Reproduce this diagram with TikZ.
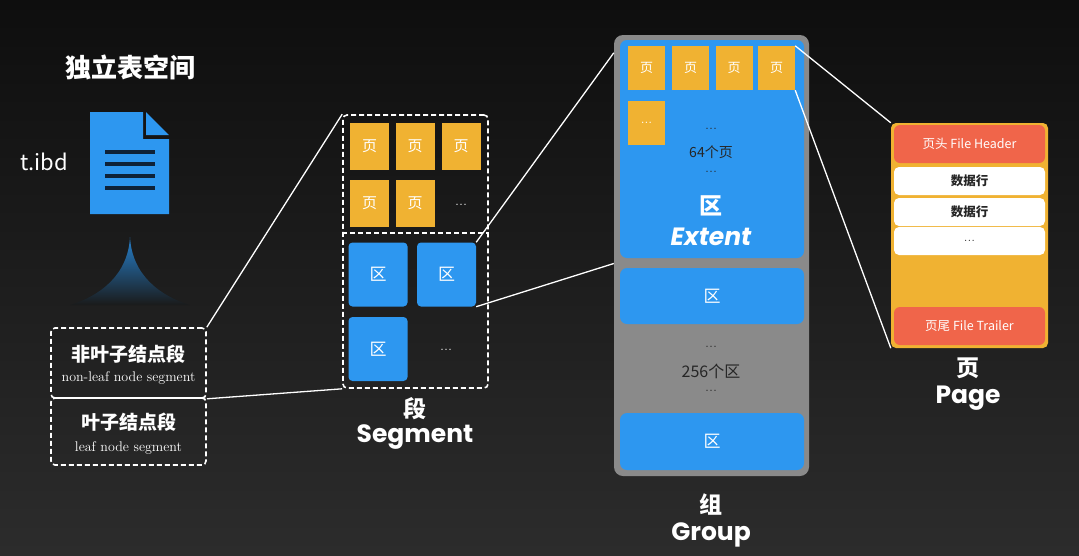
\documentclass[tikz,border=0pt]{standalone}
\usepackage{fontspec}
\newfontfamily\cjk{Noto Sans CJK SC}
\newfontfamily\disp{Poppins}
\newcommand{\fsz}[1]{\fontsize{#1}{#1}\selectfont}
\definecolor{bgtop}{HTML}{0E0E0E}
\definecolor{bgbot}{HTML}{2C2C2C}
\definecolor{docblue}{HTML}{2D97F0}
\definecolor{docdark}{HTML}{0E2238}
\definecolor{pageyel}{HTML}{F0B232}
\definecolor{hdrred}{HTML}{F0654A}
\definecolor{grpgray}{HTML}{8A8A8A}
\tikzset{
  dashbox/.style={draw=white, line width=1.6pt, dash pattern=on 5pt off 3pt, rounded corners=4pt, inner sep=0pt},
  pagecell/.style={fill=pageyel, text=white, inner sep=0pt, font=\cjk\fsz{15}},
  extcell/.style={fill=docblue, text=white, rounded corners=4pt, inner sep=0pt, font=\cjk\fsz{17}},
  rowcell/.style={fill=white, text=black!85, rounded corners=5pt, minimum width=151, minimum height=28, inner sep=0pt, font=\cjk\bfseries\fsz{12.5}},
  redcell/.style={fill=hdrred, text=white, rounded corners=6pt, minimum width=151, minimum height=38, inner sep=0pt, font=\cjk\fsz{12.5}},
  cjktitle/.style={text=white, font=\cjk\bfseries\fsz{23}},
  engtitle/.style={text=white, font=\disp\bfseries\fsz{25}},
  dots/.style={font=\fsz{16}},
  link/.style={draw=white!90, line width=1.3pt}
}
\begin{document}
\begin{tikzpicture}[x=1pt,y=-1pt]
\shade[top color=bgtop,bottom color=bgbot] (0,0) rectangle (1079,555);
\node[text=white, font=\cjk\bfseries\fsz{26}] (title) at (130,67) {独立表空间};
\node[text=white, font=\cjk\fsz{22}] (ibd) at (44,162) {t.ibd};
\fill[docblue] (90,112) -- (143,112) -- (143,139) -- (169,139) -- (169,214) -- (90,214) -- cycle;
\fill[docblue] (146,112) -- (169,135) -- (146,135) -- cycle;
\foreach \y in {152,164,176,188}
  \draw[line width=3.5pt, docdark] (105,\y) -- (155,\y);
\shade[top color=docblue!85!black, bottom color=bgtop!60!bgbot]
  (130,237) .. controls (128,275) and (100,296) .. (70,305) -- (190,305)
  .. controls (160,296) and (132,275) .. (130,237);
\node[dashbox, minimum width=155, minimum height=70] (nonleaf) at (128.5,363) {};
\node[dashbox, minimum width=155, minimum height=67] (leaf) at (128.5,431.5) {};
\node[text=white, font=\cjk\bfseries\fsz{19}] (nonleaft) at (128.5,354) {非叶子结点段};
\node[text=white, font=\fsz{14}] (nonleafe) at (128.5,378) {non-leaf node segment};
\node[text=white, font=\cjk\bfseries\fsz{19}] (leaft) at (128.5,422) {叶子结点段};
\node[text=white, font=\fsz{14}] (leafe) at (128.5,448) {leaf node segment};

\node[dashbox, minimum width=145, minimum height=273] (seg) at (415.5,251.5) {};
\draw[dashbox] (seg.west |- 0,233) -- (seg.east |- 0,233);
\foreach \x/\y/\n in {369.5/146.5/1, 415/146.5/2, 461/146.5/3, 369.5/203/4, 415/203/5}
  \node[pagecell, minimum width=39, minimum height=47] (sp\n) at (\x,\y) {页};
\node[dots, text=white] (spdots) at (461,205) {...};
\foreach \x/\y/\n in {378/274.5/1, 446.5/274.5/2, 378/349/3}
  \node[extcell, minimum width=59, minimum height=64] (se\n) at (\x,\y) {区};
\node[dots, text=white] (sedots) at (446,350) {...};
\node[cjktitle] (segc) at (415,409) {段};
\node[engtitle] (sege) at (415,437) {Segment};

\node[fill=grpgray, rounded corners=9pt, minimum width=195, minimum height=441] (grp) at (711.5,255.5) {};
\node[extcell, rounded corners=7pt, minimum width=184, minimum height=218] (ext1) at (712,149) {};
\foreach \x/\n in {646.5/1, 690.5/2, 734/3, 776.5/4}
  \node[pagecell, font=\cjk\fsz{13}, minimum width=37, minimum height=44] (gp\n) at (\x,68) {页};
\node[pagecell, font=\fsz{14}, minimum width=37, minimum height=44] (gpdots) at (646.5,123) {...};
\node[dots, text=black!85] (d1) at (711,129) {...};
\node[text=black!85, font=\cjk\fsz{14}] (cnt1) at (711,152) {64个页};
\node[dots, text=black!85] (d2) at (711,172) {...};
\node[text=white, font=\cjk\bfseries\fsz{23}] (extc) at (711,206) {区};
\node[text=white, font=\disp\bfseries\itshape\fsz{25}] (exte) at (711,237) {Extent};
\node[extcell, rounded corners=7pt, minimum width=184, minimum height=56] (ext2) at (712,296) {区};
\node[dots, text=black!85] (d3) at (711,347) {...};
\node[text=black!85, font=\cjk\fsz{16}] (cnt2) at (711,371) {256个区};
\node[dots, text=black!85] (d4) at (711,391) {...};
\node[extcell, rounded corners=7pt, minimum width=184, minimum height=57] (ext3) at (712,441.5) {区};
\node[cjktitle] (grpc) at (711,504) {组};
\node[engtitle] (grpe) at (711,535) {Group};

\node[fill=pageyel, rounded corners=5pt, minimum width=157, minimum height=225] (pg) at (969.5,235.5) {};
\node[redcell] (hdr) at (969.5,144) {页头 File Header};
\node[rowcell] (row1) at (969.5,181) {数据行};
\node[rowcell] (row2) at (969.5,212) {数据行};
\node[rowcell, font=\fsz{15}] (row3) at (969.5,241) {...};
\node[redcell] (trl) at (969.5,326) {页尾 File Trailer};
\node[cjktitle] (pgc) at (968,368) {页};
\node[engtitle] (pge) at (968,398) {Page};

\draw[link] (nonleaf.north east) -- (seg.north west);
\draw[link] (nonleaf.south east) -- (seg.south west);
\draw[link] (se2.north east) -- ([yshift=-18pt]grp.north west);
\draw[link] (se2.south east) -- ([yshift=-8pt]grp.west);
\draw[link] (gp4.north east) -- (pg.north west);
\draw[link] (gp4.south east) -- (pg.south west);
\end{tikzpicture}
\end{document}
